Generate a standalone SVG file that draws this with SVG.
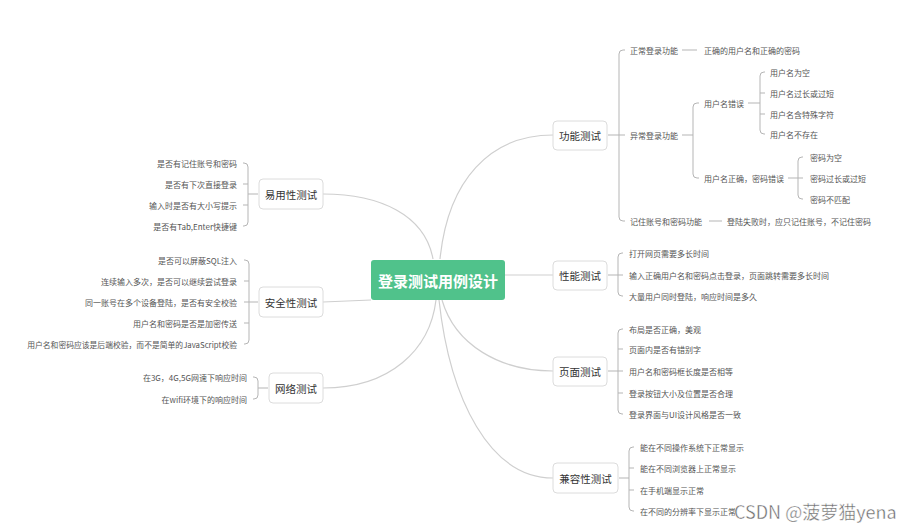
<svg xmlns="http://www.w3.org/2000/svg" width="915" height="530" viewBox="0 0 915 530">
<defs>
<style>
text{font-family:"Noto Sans CJK SC","Noto Sans",sans-serif;dominant-baseline:central}
.leaf{font-size:8px;fill:#555}
.end{text-anchor:end}
.main{font-size:10.5px;fill:#333;text-anchor:middle}
.box{fill:#fff;stroke:#dcdcdc;stroke-width:1}
.curve{fill:none;stroke:#cfcfcf;stroke-width:1.2}
.br{fill:none;stroke:#b5b5b5;stroke-width:1}
</style>
</defs>
<rect width="915" height="530" fill="#fff"/>
<g id="connectors">
<path class="curve" d="M440,259 C448,180 490,135 553,135"/>
<path class="curve" d="M433,259 C425,215 380,194 323,194"/>
<path class="curve" d="M505,275 L553,275"/>
<path class="curve" d="M371,300 L323,302"/>
<path class="curve" d="M436,300 C430,350 390,388 323,388"/>
<path class="curve" d="M442,300 C455,345 500,371 553,371"/>
<path class="curve" d="M439,300 C450,400 490,478 553,478"/>
<path class="br" d="M608,135 H619 M625,50 H623 Q619,50 619,54 V217 Q619,221 623,221 H625 M619,135 H625"/>
<path class="br" d="M682,50 H697"/>
<path class="br" d="M682,135 H693 M699,103 H697 Q693,103 693,107 V174 Q693,178 697,178 H699"/>
<path class="br" d="M748,103 H760 M765,72 H764 Q760,72 760,76 V130 Q760,134 764,134 H765 M760,93 H765 M760,114 H765"/>
<path class="br" d="M788,178 H798 M803,157 H802 Q798,157 798,161 V195 Q798,199 802,199 H803 M798,178 H803"/>
<path class="br" d="M709,221 H722"/>
<path class="br" d="M608,275 H618 M623,253 H622 Q618,253 618,257 V292 Q618,296 622,296 H623 M618,275 H623"/>
<path class="br" d="M608,371 H618 M623,329 H622 Q618,329 618,333 V410 Q618,414 622,414 H623 M618,349 H623 M618,371 H623 M618,393 H623"/>
<path class="br" d="M619,478 H629 M634,447 H633 Q629,447 629,451 V507 Q629,511 633,511 H634 M629,468 H634 M629,490 H634"/>
<path class="br" d="M258,194 H248 M243,163 H244 Q248,163 248,167 V222 Q248,226 244,226 H243 M248,184 H243 M248,205 H243"/>
<path class="br" d="M258,302 H249 M244,260 H245 Q249,260 249,264 V340 Q249,344 245,344 H244 M249,281 H244 M249,302 H244 M249,323 H244"/>
<path class="br" d="M268,388 H258 M253,377 H254 Q258,377 258,381 V395 Q258,399 254,399 H253"/>
</g>
<g id="root">
<rect x="371" y="260" width="134" height="40" rx="3" fill="#50c28b"/>
<text x="438" y="280" font-size="15" font-weight="bold" fill="#fff" text-anchor="middle">登录测试用例设计</text>
</g>
<g id="n-gongneng">
<rect class="box" x="553" y="121" width="54" height="29" rx="4"/>
<text class="main" x="580" y="135.5">功能测试</text>
</g>
<g id="n-gongneng-children">
<text class="leaf" x="630" y="50">正常登录功能</text>
<text class="leaf" x="704" y="50">正确的用户名和正确的密码</text>
<text class="leaf" x="630" y="135">异常登录功能</text>
<text class="leaf" x="704" y="103">用户名错误</text>
<text class="leaf" x="770" y="72">用户名为空</text>
<text class="leaf" x="770" y="93">用户名过长或过短</text>
<text class="leaf" x="770" y="114">用户名含特殊字符</text>
<text class="leaf" x="770" y="134">用户名不存在</text>
<text class="leaf" x="704" y="178">用户名正确，密码错误</text>
<text class="leaf" x="810" y="157">密码为空</text>
<text class="leaf" x="810" y="178">密码过长或过短</text>
<text class="leaf" x="810" y="199">密码不匹配</text>
<text class="leaf" x="630" y="221">记住账号和密码功能</text>
<text class="leaf" x="727" y="221">登陆失败时，应只记住账号，不记住密码</text>
</g>
<g id="n-xingneng">
<rect class="box" x="553" y="261" width="54" height="29" rx="4"/>
<text class="main" x="580" y="275.5">性能测试</text>
<text class="leaf" x="629" y="253">打开网页需要多长时间</text>
<text class="leaf" x="629" y="275">输入正确用户名和密码点击登录，页面跳转需要多长时间</text>
<text class="leaf" x="629" y="296">大量用户同时登陆，响应时间是多久</text>
</g>
<g id="n-yemian">
<rect class="box" x="553" y="357" width="54" height="29" rx="4"/>
<text class="main" x="580" y="371.5">页面测试</text>
<text class="leaf" x="629" y="329">布局是否正确，美观</text>
<text class="leaf" x="629" y="349">页面内是否有错别字</text>
<text class="leaf" x="629" y="371">用户名和密码框长度是否相等</text>
<text class="leaf" x="629" y="393">登录按钮大小及位置是否合理</text>
<text class="leaf" x="629" y="414">登录界面与UI设计风格是否一致</text>
</g>
<g id="n-jianrong">
<rect class="box" x="553" y="463" width="65" height="30" rx="4"/>
<text class="main" x="585.5" y="478.5">兼容性测试</text>
<text class="leaf" x="640" y="447">能在不同操作系统下正常显示</text>
<text class="leaf" x="640" y="468">能在不同浏览器上正常显示</text>
<text class="leaf" x="640" y="490">在手机端显示正常</text>
<text class="leaf" x="640" y="511">在不同的分辨率下显示正常</text>
</g>
<g id="n-yiyong">
<rect class="box" x="259" y="179" width="64" height="30" rx="4"/>
<text class="main" x="291" y="194.5">易用性测试</text>
<text class="leaf end" x="237" y="163">是否有记住账号和密码</text>
<text class="leaf end" x="237" y="184">是否有下次直接登录</text>
<text class="leaf end" x="237" y="205">输入时是否有大小写提示</text>
<text class="leaf end" x="237" y="226">是否有Tab,Enter快捷键</text>
</g>
<g id="n-anquan">
<rect class="box" x="259" y="287" width="64" height="30" rx="4"/>
<text class="main" x="291" y="302.5">安全性测试</text>
<text class="leaf end" x="237" y="260">是否可以屏蔽SQL注入</text>
<text class="leaf end" x="237" y="281">连续输入多次，是否可以继续尝试登录</text>
<text class="leaf end" x="237" y="302">同一账号在多个设备登陆，是否有安全校验</text>
<text class="leaf end" x="237" y="323">用户名和密码是否是加密传送</text>
<text class="leaf end" x="237" y="344" style="font-size:7.8px">用户名和密码应该是后端校验，而不是简单的JavaScript校验</text>
</g>
<g id="n-wangluo">
<rect class="box" x="269" y="373" width="54" height="30" rx="4"/>
<text class="main" x="296" y="388.5">网络测试</text>
<text class="leaf end" x="247" y="377">在3G，4G,5G网速下响应时间</text>
<text class="leaf end" x="247" y="399">在wifi环境下的响应时间</text>
</g>
<text x="734" y="511" font-size="18" fill="#6a6a6a" stroke="#fff" stroke-width="0.4">CSDN @菠萝猫yena</text>
</svg>
